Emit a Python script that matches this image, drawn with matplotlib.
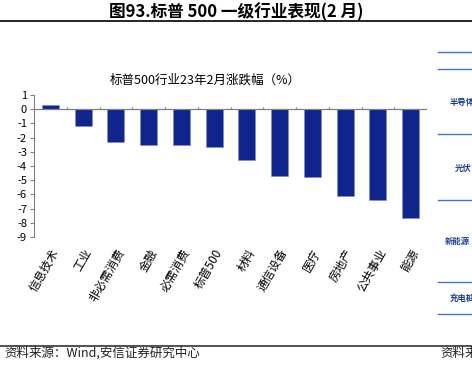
import numpy as np
import matplotlib
matplotlib.use("Agg")
import matplotlib.pyplot as plt

plt.rcParams['font.family'] = ['Noto Sans CJK SC', 'DejaVu Sans']
plt.rcParams['axes.unicode_minus'] = False

# datos
sectores = ['信息技术', '工业', '非必需消费', '金融', '必需消费', '标普500',
            '材料', '通信设备', '医疗', '房地产', '公共事业', '能源']
variacion = [0.3, -1.2, -2.3, -2.5, -2.5, -2.65, -3.55, -4.7, -4.75, -6.1, -6.4, -7.65]
etiquetas_lado = ['半导体', '光伏', '新能源', '充电桩']

fig = plt.figure(figsize=(4.72, 3.69), dpi=100)

# cabecera
fig.text(236 / 472, 1 - 12 / 369, '图93.标普 500 一级行业表现(2 月)', ha='center', va='center',
         fontsize=12, fontweight='bold')
fig.add_artist(plt.Line2D([0, 1], [1 - 21 / 369] * 2, color='black', lw=1.2))
fig.add_artist(plt.Line2D([0, 1], [1 - 346 / 369] * 2, color='#333333', lw=1.2))
fig.text(4 / 472, 1 - 353 / 369, '资料来源：Wind,安信证券研究中心', ha='left', va='center',
         fontsize=9, color='#222222')
fig.text(440 / 472, 1 - 353 / 369, '资料来', ha='left', va='center', fontsize=9, color='#222222')

# panel lateral
for yy in [52, 69, 134, 200, 282, 314]:
    fig.add_artist(plt.Line2D([438 / 472, 1], [1 - yy / 369] * 2, color='#4472C4', lw=1.0))
for txt, xx, yy in zip(etiquetas_lado, [450, 455, 445, 450], [102, 168, 241, 298]):
    fig.text(xx / 472, 1 - yy / 369, txt, ha='left', va='center', fontsize=6,
             color='#1F3F8F', fontweight='bold')

# grafico
ax = fig.add_axes([34 / 472, 1 - 237 / 369, (427 - 34) / 472, (237 - 95) / 369])
x = np.arange(len(sectores))
ax.bar(x, variacion, width=0.52, color='#0F258C', edgecolor='#7F8FC8', linewidth=0.4, zorder=3)

ax.set_xlim(-0.5, len(sectores) - 0.5)
ax.set_ylim(-9, 1)
ax.set_yticks(np.arange(-9, 2, 1))
ax.tick_params(axis='y', direction='out', length=3, labelsize=8, color='#808080', pad=2)

ax.axhline(0, color='#808080', lw=0.9, zorder=4)
limites = np.arange(len(sectores)) + 0.5
ax.vlines(limites, 0, 0.15, color='#808080', lw=0.9, zorder=4)

ax.set_xticks(x)
ax.set_xticklabels(sectores, rotation=60, ha='right', va='top', rotation_mode='anchor', fontsize=8.5)
ax.tick_params(axis='x', length=0, pad=7)

for lado in ['top', 'right', 'bottom']:
    ax.spines[lado].set_visible(False)
ax.spines['left'].set_color('#808080')

fig.text(205 / 472, 1 - 80 / 369, '标普500行业23年2月涨跌幅（%）', ha='center', va='center', fontsize=9)

fig.savefig('out.png', dpi=100)
